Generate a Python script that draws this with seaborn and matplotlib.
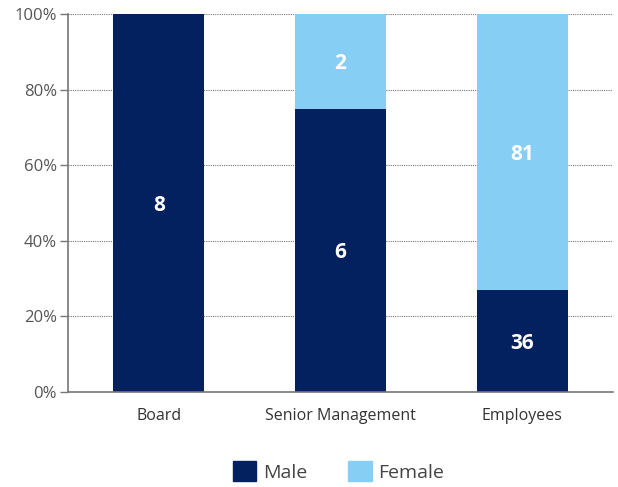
import pandas as pd
import seaborn as sns
import matplotlib.pyplot as plt
from matplotlib.patches import Patch
from matplotlib.ticker import PercentFormatter

groups = ['Board', 'Senior Management', 'Employees']
male_share = [100, 75, 27]
female_share = [0, 25, 73]
male_count = [8, 6, 36]
female_count = [0, 2, 81]

male_color = '#03205f'
female_color = '#87cef5'

df = pd.DataFrame({'group': groups, 'male': male_share, 'female': female_share})

sns.set_style('white')
plt.rcParams['font.family'] = ['Open Sans', 'DejaVu Sans']

fig = plt.figure(figsize=(6.18, 4.87), dpi=100)
ax = fig.add_axes([0.110, 0.195, 0.882, 0.776])

sns.barplot(data=df, x='group', y='male', color=male_color, width=0.5,
            saturation=1, linewidth=0, ax=ax)
sns.barplot(data=df, x='group', y='female', color=female_color, width=0.5,
            saturation=1, linewidth=0, bottom=df['male'], ax=ax)

# counts inside the bars
for i in range(len(groups)):
    ax.text(i, male_share[i] / 2, str(male_count[i]), ha='center',
            va='center_baseline', color='white', fontsize=15, fontweight='bold')
    if female_count[i] > 0:
        ax.text(i, male_share[i] + female_share[i] / 2, str(female_count[i]),
                ha='center', va='center_baseline', color='white', fontsize=15,
                fontweight='bold')

ax.set_ylim(0, 100)
ax.set_xlim(-0.5, 2.5)
ax.set_yticks([0, 20, 40, 60, 80, 100])
ax.yaxis.set_major_formatter(PercentFormatter(decimals=0))
ax.set_xlabel('')
ax.set_ylabel('')
ax.yaxis.grid(True, linestyle=(0, (1, 1)), color='#777777', linewidth=0.8)
ax.set_axisbelow(True)

for s in ['top', 'right']:
    ax.spines[s].set_visible(False)
for s in ['left', 'bottom']:
    ax.spines[s].set_color('#777777')
    ax.spines[s].set_linewidth(1.2)

ax.tick_params(axis='y', left=True, length=6, width=1, color='#777777',
               labelcolor='#555555', labelsize=12, pad=2)
ax.tick_params(axis='x', bottom=False, labelcolor='#333333', labelsize=11.5, pad=8)

handles = [Patch(color=male_color, label='Male'),
           Patch(color=female_color, label='Female')]
fig.legend(handles=handles, loc='lower center', ncol=2, frameon=False,
           fontsize=14, labelcolor='#444444', handlelength=1.2, handleheight=1.2,
           handletextpad=0.35, columnspacing=2.1, bbox_to_anchor=(0.548, -0.025))

fig.savefig('out.png', dpi=100)
